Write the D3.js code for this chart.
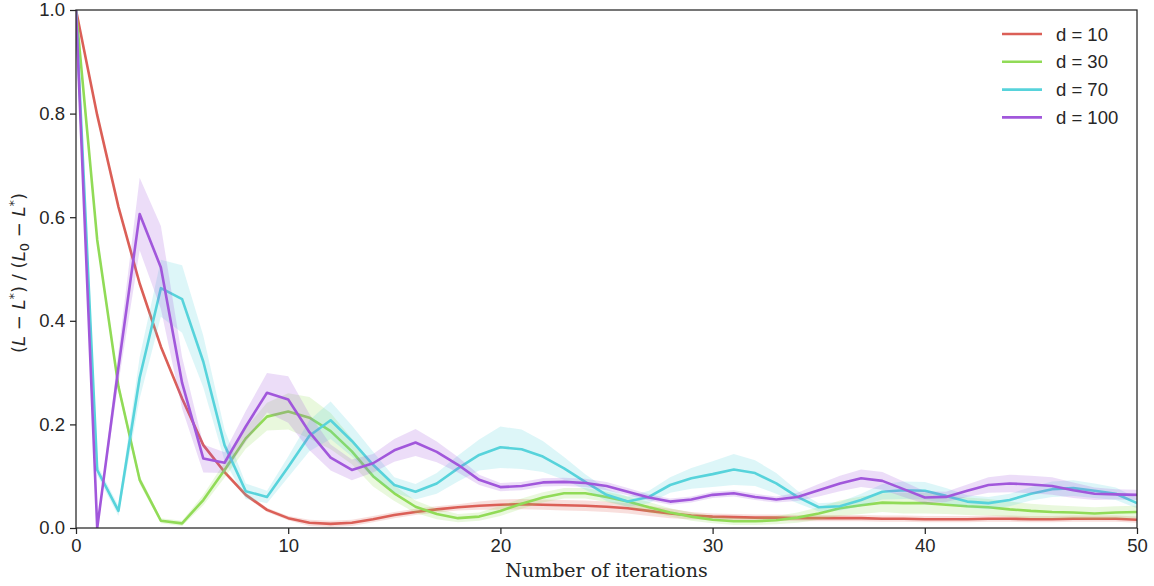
<!DOCTYPE html>
<html>
<head>
<meta charset="utf-8">
<script src="https://cdn.jsdelivr.net/npm/d3@7/dist/d3.min.js"></script>
<style>
html,body{margin:0;padding:0;background:#fff;}
svg{display:block;}
</style>
</head>
<body>
<svg id="chart" width="1154" height="586"></svg>
<script>
const iterations = d3.range(0, 51);
const seriesNames = ["d = 10", "d = 30", "d = 70", "d = 100"];
const seriesColors = ["#db5f57", "#91db57", "#57d3db", "#a157db"];

const d10 = [1.0,0.797,0.62,0.472,0.35,0.25,0.16,0.108,0.064,0.035,0.019,0.01,0.008,0.01,0.017,0.025,0.031,0.036,0.04,0.043,0.045,0.046,0.045,0.044,0.043,0.041,0.038,0.033,0.028,0.024,0.022,0.021,0.02,0.02,0.019,0.019,0.019,0.019,0.018,0.018,0.017,0.017,0.017,0.018,0.018,0.017,0.017,0.018,0.018,0.018,0.016];
const d30 = [1.0,0.556,0.273,0.093,0.014,0.009,0.054,0.112,0.173,0.215,0.225,0.213,0.187,0.148,0.1,0.067,0.041,0.027,0.019,0.022,0.033,0.047,0.059,0.067,0.067,0.06,0.051,0.04,0.03,0.022,0.016,0.013,0.013,0.015,0.02,0.028,0.038,0.044,0.049,0.048,0.048,0.045,0.042,0.04,0.036,0.033,0.031,0.03,0.028,0.03,0.031];
const d70 = [1.0,0.112,0.033,0.29,0.463,0.442,0.321,0.16,0.071,0.06,0.118,0.178,0.208,0.168,0.122,0.083,0.07,0.086,0.115,0.141,0.156,0.152,0.138,0.115,0.089,0.064,0.051,0.06,0.083,0.096,0.104,0.113,0.106,0.086,0.06,0.04,0.042,0.054,0.07,0.073,0.072,0.062,0.051,0.048,0.054,0.066,0.075,0.077,0.072,0.066,0.048];
const d100 = [1.0,0.0,0.31,0.606,0.503,0.28,0.134,0.126,0.196,0.261,0.248,0.185,0.136,0.112,0.125,0.15,0.165,0.147,0.122,0.093,0.079,0.081,0.088,0.089,0.087,0.081,0.07,0.059,0.051,0.055,0.064,0.067,0.06,0.055,0.06,0.073,0.086,0.096,0.091,0.075,0.059,0.06,0.072,0.083,0.086,0.084,0.081,0.073,0.066,0.065,0.064];

// confidence band half-widths
const ci10 = [0,0.004,0.004,0.004,0.004,0.004,0.004,0.004,0.004,0.004,0.004,0.006,0.006,0.006,0.006,0.006,0.006,0.006,0.006,0.008,0.01,0.01,0.01,0.01,0.01,0.01,0.01,0.01,0.009,0.007,0.006,0.006,0.006,0.006,0.006,0.006,0.006,0.006,0.006,0.006,0.006,0.006,0.006,0.006,0.006,0.006,0.006,0.006,0.006,0.006,0.006];
const ci30 = [0,0.01,0.01,0.008,0.005,0.005,0.01,0.015,0.02,0.027,0.035,0.04,0.035,0.025,0.02,0.015,0.012,0.01,0.008,0.008,0.01,0.01,0.01,0.01,0.01,0.01,0.01,0.01,0.008,0.008,0.007,0.007,0.007,0.008,0.01,0.012,0.015,0.017,0.018,0.02,0.02,0.018,0.017,0.016,0.015,0.014,0.013,0.012,0.012,0.012,0.012];
const ci70 = [0,0.01,0.01,0.04,0.055,0.065,0.05,0.03,0.015,0.012,0.02,0.03,0.036,0.03,0.025,0.015,0.015,0.02,0.025,0.03,0.04,0.038,0.03,0.022,0.015,0.012,0.01,0.012,0.015,0.02,0.025,0.03,0.025,0.02,0.012,0.008,0.008,0.012,0.015,0.017,0.017,0.015,0.012,0.012,0.012,0.013,0.015,0.015,0.014,0.012,0.01];
const ci100 = [0,0,0.03,0.07,0.08,0.05,0.027,0.02,0.03,0.038,0.045,0.035,0.025,0.02,0.018,0.022,0.026,0.02,0.015,0.01,0.008,0.008,0.008,0.008,0.008,0.008,0.007,0.006,0.006,0.006,0.006,0.006,0.006,0.006,0.008,0.012,0.015,0.017,0.017,0.015,0.012,0.01,0.012,0.015,0.017,0.017,0.017,0.015,0.012,0.01,0.01];

const xTicks = [0, 10, 20, 30, 40, 50];
const yTicks = [0.0, 0.2, 0.4, 0.6, 0.8, 1.0];

const seriesValues = [d10, d30, d70, d100];
const seriesCI = [ci10, ci30, ci70, ci100];

const svg = d3.select("#chart");
const margin = {left: 76, right: 1154 - 1137, top: 10, bottom: 586 - 528};
const W = 1154, H = 586;
const x = d3.scaleLinear().domain([0, 50]).range([margin.left, W - margin.right]);
const y = d3.scaleLinear().domain([0, 1]).range([H - margin.bottom, margin.top]);

const ink = "#262626";
const tickFont = "'Liberation Sans', Arial, sans-serif";

svg.append("defs").append("clipPath").attr("id", "clip")
  .append("rect").attr("x", x(0)).attr("y", y(1)).attr("width", x(50) - x(0)).attr("height", y(0) - y(1));

const plot = svg.append("g").attr("clip-path", "url(#clip)");

seriesValues.forEach((vals, k) => {
  const ci = seriesCI[k];
  const area = d3.area()
    .x((d, i) => x(iterations[i]))
    .y0((d, i) => y(vals[i] - ci[i]))
    .y1((d, i) => y(vals[i] + ci[i]));
  plot.append("path").datum(vals).attr("d", area)
    .attr("fill", seriesColors[k]).attr("fill-opacity", 0.2).attr("stroke", "none");
  const line = d3.line().x((d, i) => x(iterations[i])).y(d => y(d));
  plot.append("path").datum(vals).attr("d", line)
    .attr("fill", "none").attr("stroke", seriesColors[k]).attr("stroke-width", 2.6)
    .attr("stroke-linejoin", "round").attr("stroke-linecap", "butt");
});

// axes
const xAxis = d3.axisBottom(x).tickValues(xTicks).tickFormat(d3.format("d")).tickSize(6).tickPadding(5);
const yAxis = d3.axisLeft(y).tickValues(yTicks).tickFormat(d3.format(".1f")).tickSize(6).tickPadding(5);

const gx = svg.append("g").attr("transform", `translate(0,${y(0)})`).call(xAxis);
const gy = svg.append("g").attr("transform", `translate(${x(0)},0)`).call(yAxis);
[gx, gy].forEach(g => {
  g.select(".domain").remove();
  g.selectAll(".tick line").attr("stroke", ink).attr("stroke-width", 1.25);
  g.selectAll(".tick text").attr("fill", ink).style("font-family", tickFont).style("font-size", "18.5px");
});

// frame
svg.append("rect").attr("x", x(0)).attr("y", y(1)).attr("width", x(50) - x(0)).attr("height", y(0) - y(1))
  .attr("fill", "none").attr("stroke", ink).attr("stroke-width", 1.25);

// x label
svg.append("text").attr("x", (x(0) + x(50)) / 2).attr("y", 577)
  .attr("text-anchor", "middle").attr("fill", ink)
  .style("font-family", "'DejaVu Serif', serif").style("font-size", "19px")
  .text("Number of iterations");

// y label (math)
const yl = svg.append("text")
  .attr("transform", `translate(25,${(y(0) + y(1)) / 2 + 4}) rotate(-90)`)
  .attr("text-anchor", "middle").attr("fill", ink)
  .style("font-family", "'DejaVu Sans', sans-serif").style("font-size", "18px");
const parts = [
  {t: "("}, {t: "L", it: true}, {t: " − "}, {t: "L", it: true}, {t: "*", sup: true}, {t: ") / ("},
  {t: "L", it: true}, {t: "0", sub: true}, {t: " − "}, {t: "L", it: true}, {t: "*", sup: true}, {t: ")"}
];
parts.forEach(p => {
  const ts = yl.append("tspan").text(p.t);
  if (p.it) ts.style("font-style", "italic");
  if (p.sup) { ts.attr("dy", -7).style("font-size", "13px"); p.reset = 7; }
  if (p.sub) { ts.attr("dy", 4).style("font-size", "13px"); p.reset = -4; }
});
const tspans = yl.selectAll("tspan").nodes();
parts.forEach((p, i) => {
  if (p.reset !== undefined && tspans[i + 1]) d3.select(tspans[i + 1]).attr("dy", p.reset);
});

// legend
const legend = svg.append("g");
seriesNames.forEach((name, k) => {
  const ly = 34 + k * 27.8;
  legend.append("line").attr("x1", 1002).attr("x2", 1042).attr("y1", ly).attr("y2", ly)
    .attr("stroke", seriesColors[k]).attr("stroke-width", 2.6);
  legend.append("text").attr("x", 1056).attr("y", ly + 6.5).attr("fill", ink)
    .style("font-family", tickFont).style("font-size", "18.5px").text(name);
});
</script>
</body>
</html>
